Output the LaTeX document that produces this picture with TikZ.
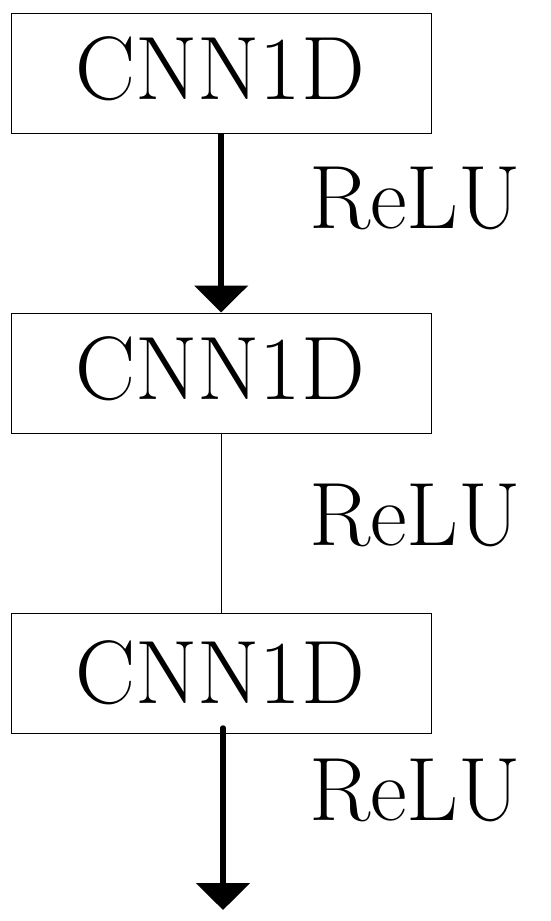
\documentclass[tikz,border=0pt]{standalone}
\usetikzlibrary{arrows.meta}
\begin{document}
\begin{tikzpicture}[x=1pt,y=-1pt,
  layerbox/.style={draw, line width=1.3pt, minimum width=420pt, minimum height=120.5pt, inner sep=0pt, anchor=north west},
  boxtext/.style={font=\fontsize{90}{100}\selectfont, inner sep=0pt, anchor=base},
  acttext/.style={font=\fontsize{90}{100}\selectfont, inner sep=0pt, anchor=base west},
  thickarrow/.style={line width=5.5pt, -{Triangle[width=53pt,length=27pt]}},
  thinline/.style={line width=1.3pt}]
\useasboundingbox (0,0) rectangle (550,921);
\node[layerbox] (box1) at (10.5,12.5) {};
\node[layerbox] (box2) at (10.5,312.5) {};
\node[layerbox] (box3) at (10.5,612.5) {};
\node[boxtext] (t1) at (220,99) {CNN1D};
\node[boxtext] (t2) at (220,399) {CNN1D};
\node[boxtext] (t3) at (220,703) {CNN1D};
\node[acttext] (relu1) at (309,228) {ReLU};
\node[acttext] (relu2) at (309,545) {ReLU};
\node[acttext] (relu3) at (309,820) {ReLU};
\coordinate (s3) at (223,728);
\coordinate (out) at (223,910);
\draw[thickarrow] (box1.south) -- (box2.north);
\draw[thinline] (box2.south) -- (box3.north);
\draw[thickarrow, line cap=round] (s3) -- (out);
\end{tikzpicture}
\end{document}
